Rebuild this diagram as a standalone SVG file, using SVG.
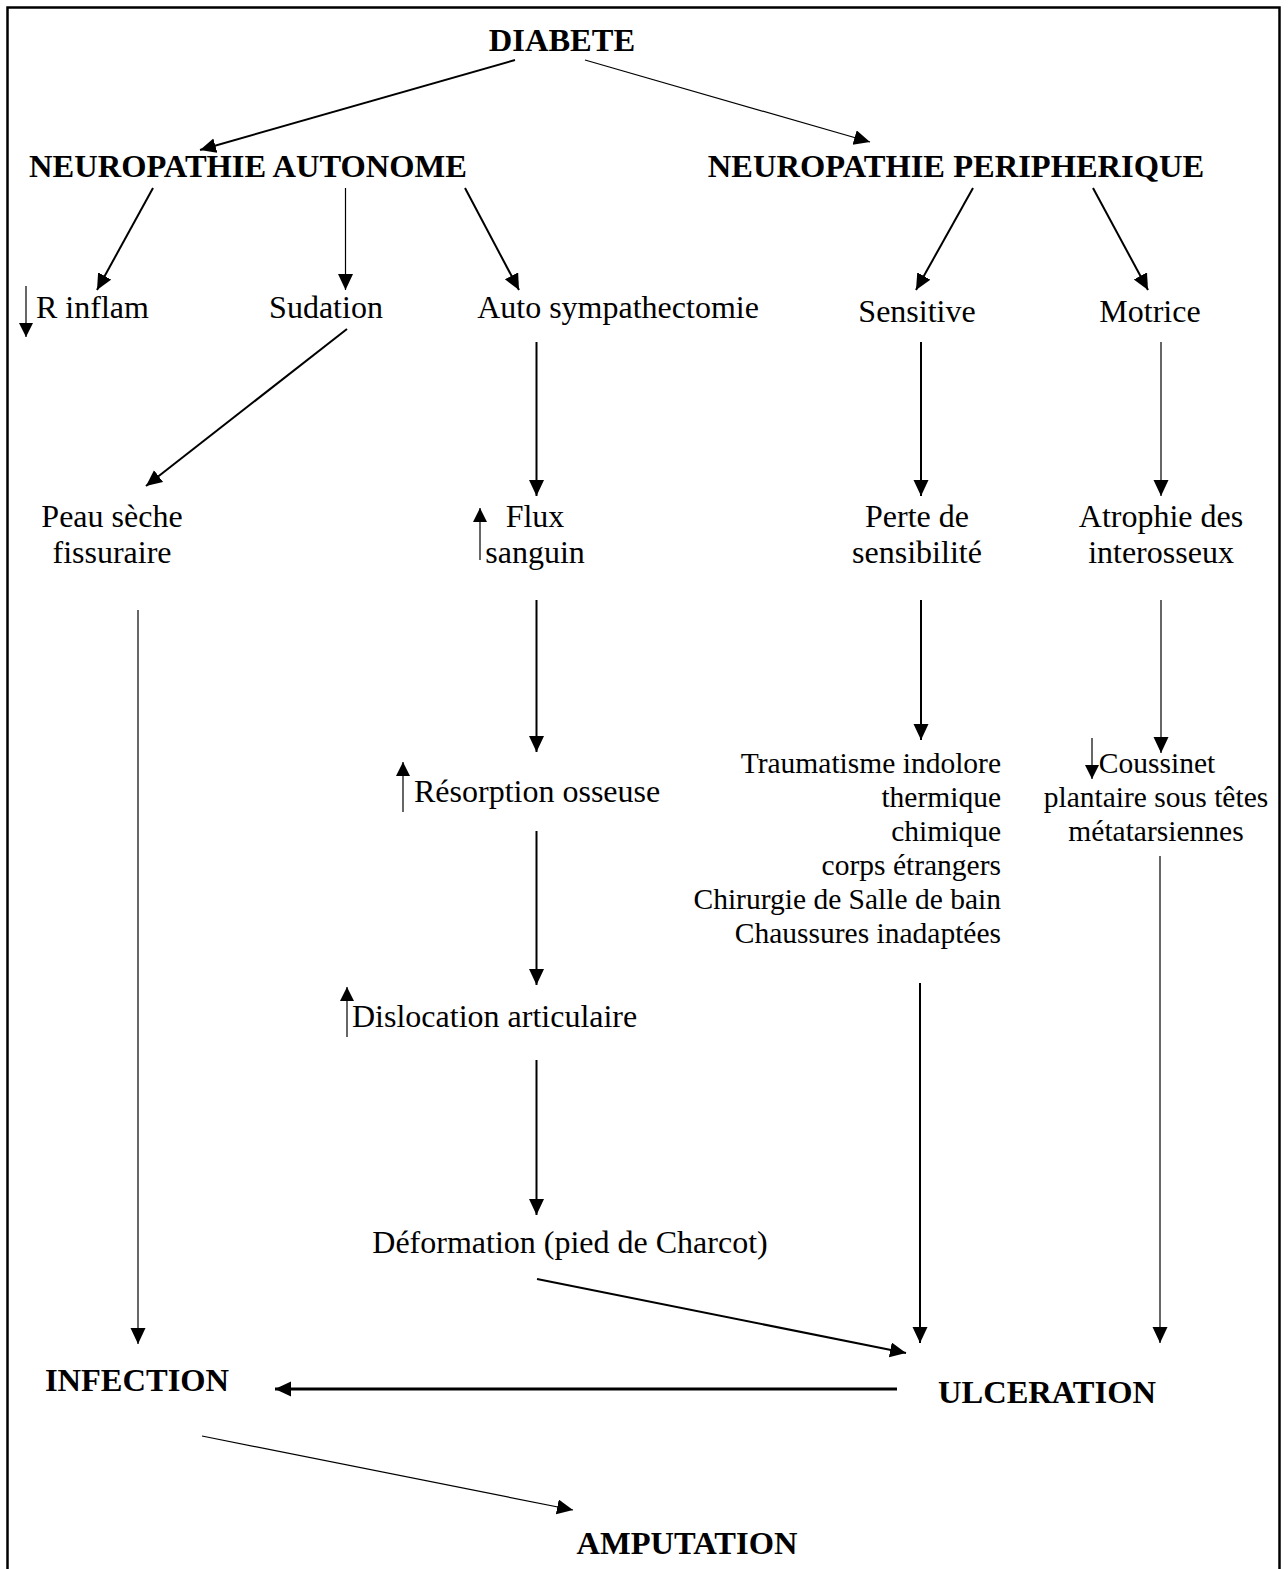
<svg xmlns="http://www.w3.org/2000/svg" width="1288" height="1569" viewBox="0 0 1288 1569">
<defs>
<style>
text{font-family:"Liberation Serif","Times New Roman",serif;font-size:32px;fill:#000}
.b{font-weight:bold;font-size:32.5px}
.s{font-size:29.5px}
.m{text-anchor:middle}
.e{text-anchor:end}
.c line{stroke:#000;fill:none}
.w1{stroke-width:1.2}
.w2{stroke-width:2}
.w3{stroke-width:3}
</style>
<marker id="ah" markerUnits="userSpaceOnUse" markerWidth="17" markerHeight="16" refX="16" refY="7.5" orient="auto" viewBox="0 0 17 16">
<path d="M0,0 L16,7.5 L0,15 z" fill="#000"/>
</marker>
<marker id="as" markerUnits="userSpaceOnUse" markerWidth="15" markerHeight="15" refX="14" refY="7" orient="auto" viewBox="0 0 15 15">
<path d="M0,0 L14,7 L0,14 z" fill="#000"/>
</marker>
</defs>
<rect x="0" y="0" width="1288" height="1569" fill="#fff"/>
<rect x="7.5" y="7.5" width="1272" height="1575" fill="none" stroke="#000" stroke-width="2.5"/>

<g id="n-diabete"><text class="b m" x="562" y="51">DIABETE</text></g>
<g id="n-na"><text class="b m" x="248" y="177">NEUROPATHIE AUTONOME</text></g>
<g id="n-np"><text class="b m" x="956" y="177">NEUROPATHIE PERIPHERIQUE</text></g>
<g id="n-rinflam"><text x="36" y="318">R inflam</text></g>
<g id="n-sudation"><text class="m" x="326" y="318">Sudation</text></g>
<g id="n-auto"><text class="m" x="618" y="318">Auto sympathectomie</text></g>
<g id="n-sensitive"><text class="m" x="917" y="322">Sensitive</text></g>
<g id="n-motrice"><text class="m" x="1150" y="322">Motrice</text></g>
<g id="n-peau"><text class="m" x="112" y="527">Peau sèche</text><text class="m" x="112" y="563">fissuraire</text></g>
<g id="n-flux"><text class="m" x="535" y="527">Flux</text><text class="m" x="535" y="563">sanguin</text></g>
<g id="n-perte"><text class="m" x="917" y="527">Perte de</text><text class="m" x="917" y="563">sensibilité</text></g>
<g id="n-atrophie"><text class="m" x="1161" y="527">Atrophie des</text><text class="m" x="1161" y="563">interosseux</text></g>
<g id="n-resorption"><text x="414" y="802">Résorption osseuse</text></g>
<g id="n-trauma">
<text class="s e" x="1001" y="773">Traumatisme indolore</text>
<text class="s e" x="1001" y="807">thermique</text>
<text class="s e" x="1001" y="841">chimique</text>
<text class="s e" x="1001" y="875">corps étrangers</text>
<text class="s e" x="1001" y="909">Chirurgie de Salle de bain</text>
<text class="s e" x="1001" y="943">Chaussures inadaptées</text>
</g>
<g id="n-coussinet">
<text class="s m" x="1157" y="773">Coussinet</text>
<text class="s m" x="1156" y="807">plantaire sous têtes</text>
<text class="s m" x="1156" y="841">métatarsiennes</text>
</g>
<g id="n-dislocation"><text x="352" y="1027">Dislocation articulaire</text></g>
<g id="n-deformation"><text class="m" x="570" y="1253">Déformation (pied de Charcot)</text></g>
<g id="n-infection"><text class="b m" x="137" y="1391">INFECTION</text></g>
<g id="n-ulceration"><text class="b m" x="1047" y="1403">ULCERATION</text></g>
<g id="n-amputation"><text class="b m" x="687" y="1554">AMPUTATION</text></g>

<g id="connectors" class="c">
<line class="w2" x1="515" y1="60" x2="200" y2="150" marker-end="url(#ah)"/>
<line class="w1" x1="585" y1="60" x2="870" y2="142" marker-end="url(#ah)"/>
<line class="w2" x1="153" y1="188" x2="97" y2="290" marker-end="url(#ah)"/>
<line class="w1" x1="345.5" y1="188" x2="345.5" y2="290" marker-end="url(#ah)"/>
<line class="w2" x1="465" y1="188" x2="519" y2="290" marker-end="url(#ah)"/>
<line class="w2" x1="973" y1="188" x2="916" y2="290" marker-end="url(#ah)"/>
<line class="w2" x1="1093" y1="188" x2="1148" y2="290" marker-end="url(#ah)"/>
<line class="w2" x1="347" y1="329" x2="146" y2="486" marker-end="url(#ah)"/>
<line class="w2" x1="536.5" y1="342" x2="536.5" y2="496" marker-end="url(#ah)"/>
<line class="w2" x1="921" y1="342" x2="921" y2="496" marker-end="url(#ah)"/>
<line class="w1" x1="1161" y1="342" x2="1161" y2="496" marker-end="url(#ah)"/>
<line class="w1" x1="138" y1="610" x2="138" y2="1344" marker-end="url(#ah)"/>
<line class="w2" x1="536.5" y1="600" x2="536.5" y2="752" marker-end="url(#ah)"/>
<line class="w2" x1="921" y1="600" x2="921" y2="740" marker-end="url(#ah)"/>
<line class="w1" x1="1161" y1="600" x2="1161" y2="753" marker-end="url(#ah)"/>
<line class="w2" x1="536.5" y1="831" x2="536.5" y2="985" marker-end="url(#ah)"/>
<line class="w2" x1="536.5" y1="1060" x2="536.5" y2="1215" marker-end="url(#ah)"/>
<line class="w2" x1="920" y1="983" x2="920" y2="1343" marker-end="url(#ah)"/>
<line class="w1" x1="1160" y1="856" x2="1160" y2="1343" marker-end="url(#ah)"/>
<line class="w2" x1="537" y1="1279" x2="906" y2="1353" marker-end="url(#ah)"/>
<line class="w3" x1="897" y1="1389" x2="275" y2="1389" marker-end="url(#ah)"/>
<line class="w1" x1="202" y1="1436" x2="573" y2="1510" marker-end="url(#ah)"/>
<line class="w1" x1="26" y1="286" x2="26" y2="337" marker-end="url(#as)"/>
<line class="w1" x1="480" y1="560" x2="480" y2="508" marker-end="url(#as)"/>
<line class="w1" x1="403" y1="812" x2="403" y2="762" marker-end="url(#as)"/>
<line class="w1" x1="347" y1="1037" x2="347" y2="987" marker-end="url(#as)"/>
<line class="w1" x1="1092" y1="738" x2="1092" y2="779" marker-end="url(#as)"/>
</g>
</svg>
